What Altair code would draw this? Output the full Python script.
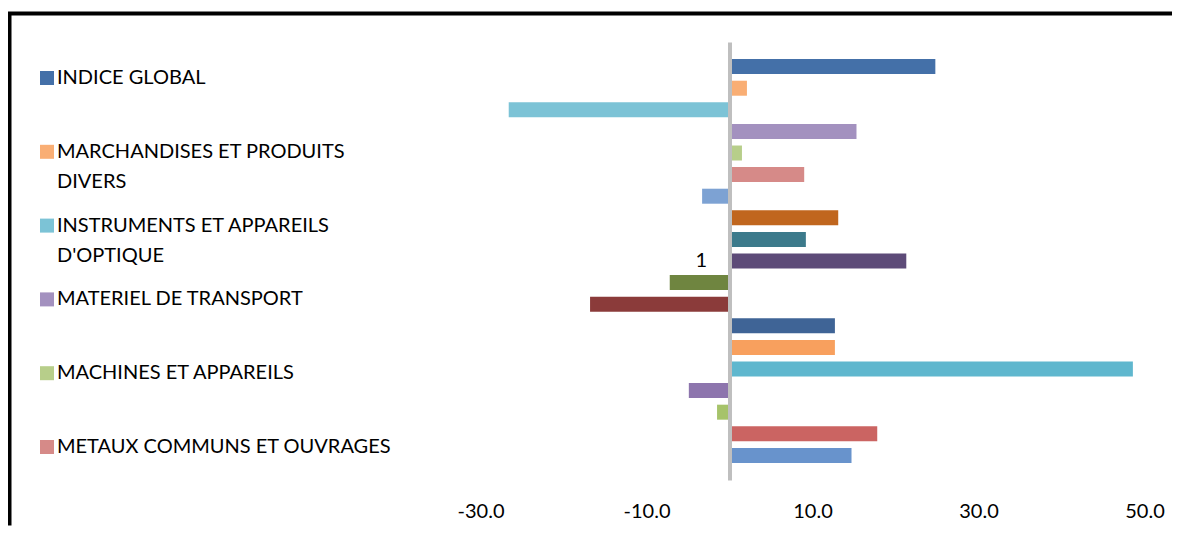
import altair as alt
import pandas as pd

# Series listed from top bar to bottom bar (Excel draws series 1 at the bottom)
series_names = [
    "INDICE GLOBAL",
    "MARCHANDISES ET PRODUITS DIVERS",
    "INSTRUMENTS ET APPAREILS D'OPTIQUE",
    "MATERIEL DE TRANSPORT",
    "MACHINES ET APPAREILS",
    "METAUX COMMUNS ET OUVRAGES",
    "SÉRIE 13", "SÉRIE 12", "SÉRIE 11", "SÉRIE 10", "SÉRIE 9", "SÉRIE 8",
    "SÉRIE 7", "SÉRIE 6", "SÉRIE 5", "SÉRIE 4", "SÉRIE 3", "SÉRIE 2", "SÉRIE 1",
]
series_values = [
    24.8, 2.1, -26.6, 15.3, 1.5, 9.0, -3.3, 13.1, 9.2, 21.3,
    -7.2, -16.8, 12.7, 12.7, 48.6, -4.9, -1.5, 17.8, 14.7,
]
series_colors = [
    "#4470A8", "#F9AE74", "#7CC3D6", "#A391BF", "#B7CE8A", "#D68A88",
    "#7DA2D3", "#C0661E", "#3C7A8B", "#5D4B78", "#6F8540", "#8B3B3A",
    "#3F6496", "#F8A05E", "#5FB7CE", "#8D75AD", "#A6C36A", "#CB6462", "#6893CC",
]
legend_names = series_names[:6]
category = "1"
tick_values = [-30, -10, 10, 30, 50]

df = pd.DataFrame({
    "cat": [category] * len(series_names),
    "serie": series_names,
    "valeur": series_values,
})

W, H = 1162.5, 512
FONT = "Lato"

label_expr = (
    "datum.label == 'MARCHANDISES ET PRODUITS DIVERS' ? ['MARCHANDISES ET PRODUITS', 'DIVERS'] : "
    "datum.label == \"INSTRUMENTS ET APPAREILS D'OPTIQUE\" ? ['INSTRUMENTS ET APPAREILS', \"D'OPTIQUE\"] : "
    "datum.label"
)

bars = alt.Chart(df).mark_bar(size=15).encode(
    x=alt.X(
        "valeur:Q",
        scale=alt.Scale(domain=[-30, 50], range=[471, 1135], nice=False, zero=False),
        axis=alt.Axis(
            values=tick_values, grid=False, domain=False, ticks=False,
            labelExpr="replace(format(datum.value, '.1f'), '\u2212', '-')",
            labelFontSize=20, labelFont=FONT, labelColor="#000000", labelFlush=False,
            labelPadding=21, offset=-45.5, title=None, labelOverlap=False,
        ),
    ),
    x2=alt.datum(0),
    y=alt.Y(
        "cat:N",
        scale=alt.Scale(range=[28.5, 466.5], paddingInner=0, paddingOuter=0),
        axis=alt.Axis(
            title=None, ticks=False, domainColor="#BFBFBF", domainWidth=4,
            labelFontSize=20, labelFont=FONT, labelColor="#000000",
            labelPadding=23, offset=-720, zindex=1,
        ),
    ),
    yOffset=alt.YOffset(
        "serie:N", sort=series_names,
        scale=alt.Scale(paddingInner=0.3, paddingOuter=0.79),
    ),
    color=alt.Color(
        "serie:N",
        scale=alt.Scale(domain=series_names, range=series_colors),
        legend=alt.Legend(
            orient="none", legendX=27.5, legendY=54.5, title=None,
            values=legend_names, symbolType="square", symbolSize=196,
            symbolStrokeWidth=0, symbolOpacity=1, labelFontSize=20, labelFont=FONT,
            labelColor="#000000", labelLimit=0, labelOffset=0, labelExpr=label_expr,
            columns=1, gridAlign="all", rowPadding=23.8, padding=0,
        ),
    ),
).properties(
    width=W,
    height=H,
    padding={"left": 1.5, "top": 5.5, "right": 0, "bottom": 0},
    autosize=alt.AutoSizeParams(type="none"),
    view=alt.ViewBackground(
        stroke="#000000", strokeWidth=4, strokeDash=[W, W + H, H], fill="white",
    ),
)

chart = bars.configure(font=FONT, style={"guide-label": {"lineHeight": 30}})

chart.save("out.html", embed_options={"renderer": "svg", "actions": False})
